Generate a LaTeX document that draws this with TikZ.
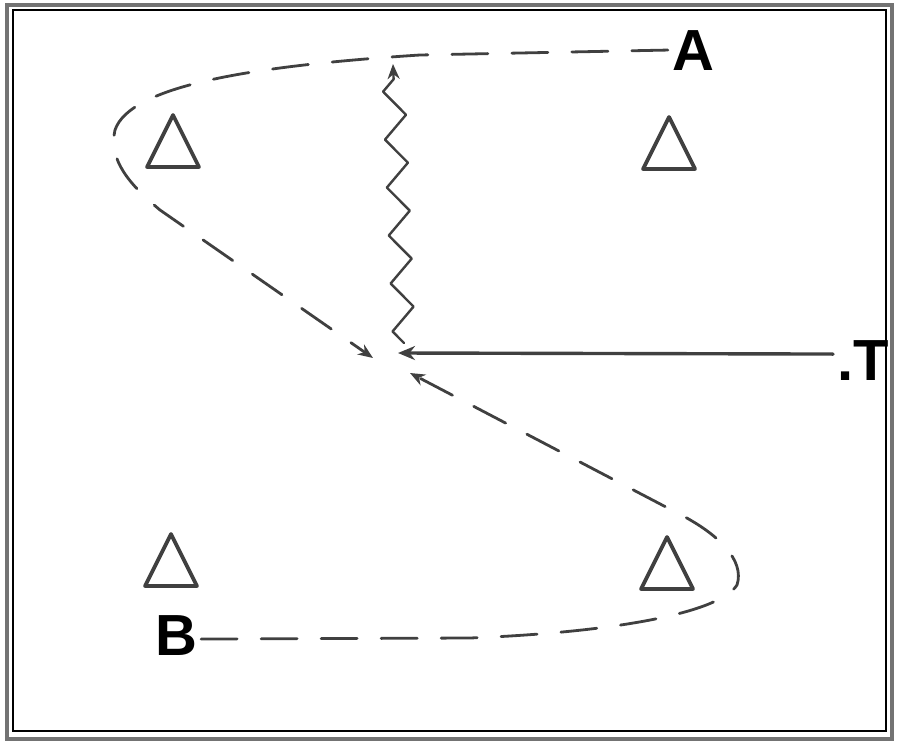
\documentclass[tikz,border=0pt]{standalone}
\usepackage{fontspec}
\setmainfont{Liberation Sans}
\usetikzlibrary{arrows.meta,decorations.pathmorphing,calc}
\begin{document}
\begin{tikzpicture}[x=1pt,y=-1pt,
  ink/.style={draw=black!75,line width=2.8pt,line cap=round,line join=round},
  conestyle/.style={ink,line width=3.8pt},
  runpath/.style={ink,dash pattern=on 36pt off 24pt,-{Stealth[length=15pt,width=12pt]}},
  letter/.style={inner sep=0pt,anchor=base,font=\fontsize{58}{60}\selectfont\bfseries}]
\useasboundingbox (0,0) rectangle (900,747);
% frame
\draw[black!55,line width=3.5pt] (7,5) rectangle (892,739);
\draw[black,line width=1.3pt] (13,10) rectangle (886,731);
% cones
\foreach \n/\x/\y in {c1/173/141, c2/669/143, c3/171/560, c4/667/563}{
  \coordinate (\n) at (\x,\y);
  \draw[conestyle] ($(\n)+(-26,26)$) -- ($(\n)+(0,-26)$) -- ($(\n)+(26,26)$) -- cycle;
}
% labels
\node[letter] (A) at (693,70) {A};
\node[letter] (B) at (176,655) {B};
\node[letter,anchor=base east] (T) at (889,380) {.T};
% meeting points
\coordinate (m1) at (373,358);
\coordinate (m2) at (410,373);
\coordinate (m3) at (398,353);
\coordinate (zs) at (404,343);
\coordinate (zt) at (393,64);
% run from A
\draw[runpath] (A.west) ++(-4,0) -- (420,55) .. controls (250,66) and (130,86) .. (115,130)
  .. controls (108,160) and (130,185) .. (160,210) -- (m1);
% run from B
\draw[runpath] (B.east) ++(4,4) -- (470,638) .. controls (620,632) and (720,612) .. (737,585)
  .. controls (745,560) and (718,535) .. (685,517) -- (m2);
% dribble
\draw[ink,line width=2.4pt,decorate,decoration={zigzag,amplitude=11pt,segment length=48pt,post length=12pt},-{Stealth[length=15pt,width=12pt]}] (zs) -- (zt);
% pass
\draw[ink,line width=3.4pt,-{Stealth[length=17pt,width=14pt]}] (T.west) ++(-4,-6) -- (m3);
\end{tikzpicture}
\end{document}
